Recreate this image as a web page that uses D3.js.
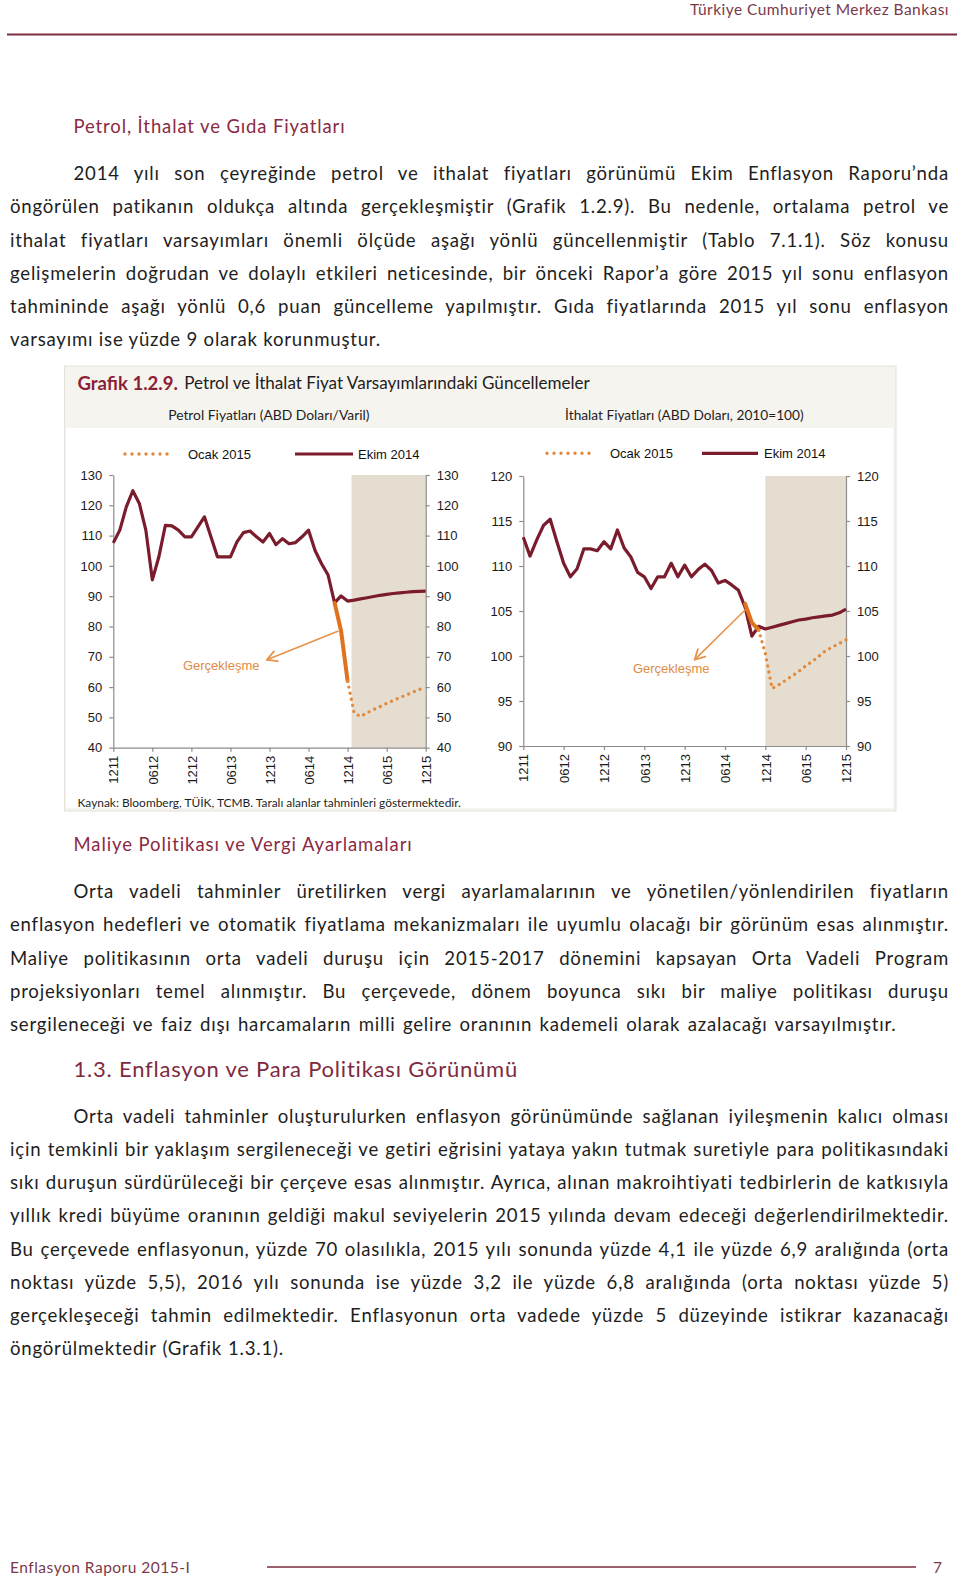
<!DOCTYPE html>
<html><head><meta charset="utf-8">
<script src="https://cdn.jsdelivr.net/npm/d3@7"></script>
<style>
html,body{margin:0;padding:0;background:#fff;}
#page{position:relative;width:960px;height:1579px;overflow:hidden;font-family:Lato,'Open Sans',sans-serif;}
.ln{position:absolute;white-space:nowrap;line-height:22px;height:22px;}
svg{position:absolute;left:0;top:0;}
</style></head><body><div id="page"></div>
<script>
// ---------------- DATA ----------------
const monthTicks = [0, 6, 12, 18, 24, 30, 36, 42, 48];
const tickLabels = ["1211", "0612", "1212", "0613", "1213", "0614", "1214", "0615", "1215"];

// Petrol Fiyatları (ABD Doları/Varil), monthly 12/2011 .. 12/2015
const petrolEkim = [107.6, 111.8, 119.5, 124.8, 120.6, 111.8, 95.4, 103, 113.4, 113.2, 111.8, 109.6,
  109.6, 112.9, 116.2, 109.6, 103, 103, 103, 107.9, 111, 111.5, 109.6, 107.9,
  110.7, 107, 109, 107.3, 107.7, 109.6, 111.8, 105.1, 100.7, 97, 87.8, 90.1,
  88.4, 88.7, 89.1, 89.5, 89.9, 90.3, 90.6, 90.9, 91.1, 91.3, 91.5, 91.6, 91.7];
const petrolGercStart = 34;
const petrolGerc = [87.8, 78.5, 62];
const petrolOcakStart = 36;
const petrolOcak = [62, 51.5, 50.3, 51.5, 52.6, 53.6, 54.6, 55.6, 56.5, 57.4, 58.3, 59.2, 60.0];

// İthalat Fiyatları (ABD Doları, 2010=100)
const ithalatEkim = [113.2, 111.1, 112.9, 114.5, 115.2, 112.7, 110.3, 108.8, 109.7, 111.9, 111.9, 111.7,
  112.7, 111.9, 114.0, 112.0, 111.0, 109.3, 108.8, 107.5, 108.8, 108.8, 110.3, 108.8,
  110.1, 108.8, 109.6, 110.2, 109.5, 108.1, 108.4, 107.9, 107.3, 105.4, 102.2, 103.3,
  103.0, 103.2, 103.4, 103.6, 103.8, 104.0, 104.1, 104.25, 104.35, 104.45, 104.55, 104.8, 105.2];
const ithalatGercStart = 33;
const ithalatGerc = [105.8, 103.7, 102.9];
const ithalatOcakStart = 35;
const ithalatOcak = [102.9, 100.3, 96.4, 96.8, 97.3, 97.8, 98.3, 98.9, 99.4, 100.0, 100.6, 101.0, 101.4, 101.8];

const petrolTicks = [40, 50, 60, 70, 80, 90, 100, 110, 120, 130];
const ithalatTicks = [90, 95, 100, 105, 110, 115, 120];

const legendLabels = ["Ocak 2015", "Ekim 2014"];

// ---------------- TEXT ----------------
const para1 = [
  "2014 yılı son çeyreğinde petrol ve ithalat fiyatları görünümü Ekim Enflasyon Raporu’nda",
  "öngörülen patikanın oldukça altında gerçekleşmiştir (Grafik 1.2.9). Bu nedenle, ortalama petrol ve",
  "ithalat fiyatları varsayımları önemli ölçüde aşağı yönlü güncellenmiştir (Tablo 7.1.1). Söz konusu",
  "gelişmelerin doğrudan ve dolaylı etkileri neticesinde, bir önceki Rapor’a göre 2015 yıl sonu enflasyon",
  "tahmininde aşağı yönlü 0,6 puan güncelleme yapılmıştır. Gıda fiyatlarında 2015 yıl sonu enflasyon",
  "varsayımı ise yüzde 9 olarak korunmuştur."
];
const para2 = [
  "Orta vadeli tahminler üretilirken vergi ayarlamalarının ve yönetilen/yönlendirilen fiyatların",
  "enflasyon hedefleri ve otomatik fiyatlama mekanizmaları ile uyumlu olacağı bir görünüm esas alınmıştır.",
  "Maliye politikasının orta vadeli duruşu için 2015-2017 dönemini kapsayan Orta Vadeli Program",
  "projeksiyonları temel alınmıştır. Bu çerçevede, dönem boyunca sıkı bir maliye politikası duruşu",
  "sergileneceği ve faiz dışı harcamaların milli gelire oranının kademeli olarak azalacağı varsayılmıştır."
];
const para3 = [
  "Orta vadeli tahminler oluşturulurken enflasyon görünümünde sağlanan iyileşmenin kalıcı olması",
  "için temkinli bir yaklaşım sergileneceği ve getiri eğrisini yataya yakın tutmak suretiyle para politikasındaki",
  "sıkı duruşun sürdürüleceği bir çerçeve esas alınmıştır. Ayrıca, alınan makroihtiyati tedbirlerin de katkısıyla",
  "yıllık kredi büyüme oranının geldiği makul seviyelerin 2015 yılında devam edeceği değerlendirilmektedir.",
  "Bu çerçevede enflasyonun, yüzde 70 olasılıkla, 2015 yılı sonunda yüzde 4,1 ile yüzde 6,9 aralığında (orta",
  "noktası yüzde 5,5), 2016 yılı sonunda ise yüzde 3,2 ile yüzde 6,8 aralığında (orta noktası yüzde 5)",
  "gerçekleşeceği tahmin edilmektedir. Enflasyonun orta vadede yüzde 5 düzeyinde istikrar kazanacağı",
  "öngörülmektedir (Grafik 1.3.1)."
];

// ---------------- HTML TEXT ----------------
const page = d3.select('#page');
const svg = page.append('svg').attr('width', 960).attr('height', 1579);
const bodyFont = "Lato, 'Open Sans', sans-serif";

function addText(text, left, cy, target, fs, color, weight, mode, baseLS) {
  const sp = page.append('span').attr('class', 'ln')
    .style('left', left + 'px').style('top', (cy - 11) + 'px')
    .style('font-size', fs + 'px').style('color', color).style('font-weight', weight || 400)
    .style('letter-spacing', (baseLS || 0) + 'px').style('word-spacing', '0px')
    .text(text);
  const w = sp.node().getBoundingClientRect().width;
  if (mode === 'ls') {
    const n = [...text].length;
    sp.style('letter-spacing', ((baseLS || 0) + (target - w) / n) + 'px');
  } else if (mode === 'ws') {
    const n = (text.match(/ /g) || []).length;
    if (n) sp.style('word-spacing', ((target - w) / n) + 'px');
  }
  return sp;
}

// calibrate body letter spacing
const bodyFS = 18.6;
const probe = page.append('span').attr('class', 'ln').style('font-size', bodyFS + 'px').text(para1[5]);
const pw = probe.node().getBoundingClientRect().width;
const bodyLS = (370.8 - pw) / [...para1[5]].length;
probe.remove();
const bodyColor = '#1e1e1e';

function addPara(lines, y0, lastW) {
  const dy = 33.2;
  lines.forEach((t, i) => {
    const first = i === 0, last = i === lines.length - 1;
    const left = first ? 73.5 : 10;
    const target = last ? lastW : (949 - left);
    addText(t, left, y0 + i * dy, target, bodyFS, bodyColor, 400, 'ws', bodyLS);
  });
}
addPara(para1, 173.2, 370.8);
addPara(para2, 891.2, 886.5);
addPara(para3, 1115.8, 274);

const maroon = '#8a2a44';
addText("Türkiye Cumhuriyet Merkez Bankası", 690, 9, 259, 15.5, '#7a3a4c', 400, 'ls');
addText("Petrol, İthalat ve Gıda Fiyatları", 73.5, 126, 272, 18.5, maroon, 400, 'ls');
addText("Maliye Politikası ve Vergi Ayarlamaları", 73.5, 844, 339.5, 18.5, maroon, 400, 'ls');
addText("1.3. Enflasyon ve Para Politikası Görünümü", 73.5, 1068.5, 445, 22, '#7e2a40', 400, 'ls');
addText("Enflasyon Raporu  2015-I", 10, 1567, 181, 15.5, '#7a3a4c', 400, 'ls');
addText("7", 933, 1567, 7, 15.5, '#7a3a4c', 400, 'none');

// header and footer rules
svg.append('line').attr('x1', 7).attr('x2', 957).attr('y1', 34.5).attr('y2', 34.5)
  .attr('stroke', '#7b2d3f').attr('stroke-width', 2);
svg.append('line').attr('x1', 267).attr('x2', 916).attr('y1', 1567).attr('y2', 1567)
  .attr('stroke', '#7b2d3f').attr('stroke-width', 1.6);

// ---------------- CHART BOX ----------------
svg.append('rect').attr('x', 64.5).attr('y', 366).attr('width', 831.5).attr('height', 445)
  .attr('fill', '#f6f4ef').attr('stroke', '#e4e1db');
svg.append('rect').attr('x', 66).attr('y', 428).attr('width', 827).attr('height', 380).attr('fill', '#fff');

function fitSvg(t, w) {
  const l = t.node().getComputedTextLength();
  t.attr('font-size', parseFloat(t.attr('font-size')) * w / l);
  return t;
}
fitSvg(svg.append('text').attr('x', 77.5).attr('y', 390).attr('font-family', bodyFont)
  .attr('font-size', 17).attr('font-weight', 700).attr('fill', '#8b1f37').text('Grafik 1.2.9.'), 100.5);
fitSvg(svg.append('text').attr('x', 184.3).attr('y', 389).attr('font-family', bodyFont)
  .attr('font-size', 15).attr('fill', '#1e1e1e').text('Petrol ve İthalat Fiyat Varsayımlarındaki Güncellemeler'), 406);
fitSvg(svg.append('text').attr('x', 168.2).attr('y', 419.5).attr('font-family', bodyFont)
  .attr('font-size', 13).attr('fill', '#1e1e1e').text('Petrol Fiyatları (ABD Doları/Varil)'), 201.5);
fitSvg(svg.append('text').attr('x', 565.1).attr('y', 420).attr('font-family', bodyFont)
  .attr('font-size', 13).attr('fill', '#1e1e1e').text('İthalat Fiyatları (ABD Doları, 2010=100)'), 238.8);
fitSvg(svg.append('text').attr('x', 77.5).attr('y', 806.5).attr('font-family', bodyFont)
  .attr('font-size', 11).attr('fill', '#1e1e1e').text('Kaynak: Bloomberg, TÜİK, TCMB. Taralı alanlar tahminleri göstermektedir.'), 383.9);

// ---------------- CHARTS ----------------
const C = {
  ekim: '#7a1c2c', gerc: '#e0711d', ocak: '#e2893a', shade: '#e6ddd1',
  axis: '#8c8c8c', ann: '#e8934a', annText: '#e08b42'
};
const arial = "'Liberation Sans', Arial, sans-serif";

function series(start, vals) { return vals.map((v, i) => ({ m: start + i, v })); }

function drawChart(cfg) {
  const g = svg.append('g');
  const x = d3.scaleLinear().domain([0, 48]).range([cfg.x0, cfg.x1]);
  const y = d3.scaleLinear().domain(cfg.dom).range([cfg.yb, cfg.yt]);

  // shaded forecast area
  g.append('rect').attr('x', x(cfg.shade)).attr('y', y(cfg.dom[1]))
    .attr('width', x(48) - x(cfg.shade)).attr('height', y(cfg.dom[0]) - y(cfg.dom[1]))
    .attr('fill', C.shade);

  // axes
  const styleAxis = sel => {
    sel.selectAll('path.domain').attr('stroke', C.axis).attr('stroke-width', 1.2);
    sel.selectAll('.tick line').attr('stroke', C.axis).attr('stroke-width', 1.2);
    sel.selectAll('text').attr('font-family', arial).attr('font-size', 13).attr('fill', '#1a1a1a');
  };
  g.append('g').attr('transform', `translate(${cfg.x0},0)`)
    .call(d3.axisLeft(y).tickValues(cfg.ticks).tickSize(4).tickSizeOuter(0).tickPadding(7)).call(styleAxis);
  g.append('g').attr('transform', `translate(${cfg.x1},0)`)
    .call(d3.axisRight(y).tickValues(cfg.ticks).tickSize(4).tickSizeOuter(0).tickPadding(7)).call(styleAxis);
  const xa = g.append('g').attr('transform', `translate(0,${cfg.yb})`)
    .call(d3.axisBottom(x).tickValues(monthTicks).tickFormat((d, i) => tickLabels[i]).tickSize(4).tickSizeOuter(0))
    .call(styleAxis);
  xa.selectAll('text').attr('transform', 'rotate(-90)').attr('text-anchor', 'end')
    .attr('x', -8).attr('y', 0).attr('dy', '0.36em');

  const line = d3.line().x(d => x(d.m)).y(d => y(d.v));

  g.append('path').datum(series(0, cfg.ekim)).attr('d', line)
    .attr('fill', 'none').attr('stroke', C.ekim).attr('stroke-width', 3.2)
    .attr('stroke-linejoin', 'round');
  g.append('path').datum(series(cfg.gercStart, cfg.gerc)).attr('d', line)
    .attr('fill', 'none').attr('stroke', C.gerc).attr('stroke-width', 4)
    .attr('stroke-linejoin', 'round').attr('stroke-linecap', 'round');
  g.append('path').datum(series(cfg.ocakStart, cfg.ocak)).attr('d', line)
    .attr('fill', 'none').attr('stroke', C.ocak).attr('stroke-width', 3.4)
    .attr('stroke-dasharray', '0 6.2').attr('stroke-linecap', 'round');

  // annotation arrow
  const [ax1, ay1] = [x(cfg.ann.from[0]), y(cfg.ann.from[1])];
  const [ax2, ay2] = [x(cfg.ann.to[0]), y(cfg.ann.to[1])];
  g.append('line').attr('x1', ax1).attr('y1', ay1).attr('x2', ax2).attr('y2', ay2)
    .attr('stroke', C.ann).attr('stroke-width', 1.6);
  const ang = Math.atan2(ay1 - ay2, ax1 - ax2);
  [-0.5, 0.5].forEach(da => {
    g.append('line').attr('x1', ax2).attr('y1', ay2)
      .attr('x2', ax2 + 11 * Math.cos(ang + da)).attr('y2', ay2 + 11 * Math.sin(ang + da))
      .attr('stroke', C.ann).attr('stroke-width', 1.8).attr('stroke-linecap', 'round');
  });
  g.append('text').attr('x', x(cfg.ann.text[0])).attr('y', y(cfg.ann.text[1]))
    .attr('font-family', arial).attr('font-size', 13).attr('fill', C.annText).text('Gerçekleşme');

  // legend
  const L = cfg.legend;
  g.append('line').attr('x1', L.dot[0]).attr('x2', L.dot[1]).attr('y1', L.y).attr('y2', L.y)
    .attr('stroke', C.ocak).attr('stroke-width', 3.4).attr('stroke-dasharray', '0 7').attr('stroke-linecap', 'round');
  g.append('text').attr('x', L.dotText).attr('y', L.y + 4.7).attr('font-family', arial)
    .attr('font-size', 13).attr('fill', '#111').text(legendLabels[0]);
  g.append('line').attr('x1', L.solid[0]).attr('x2', L.solid[1]).attr('y1', L.y).attr('y2', L.y)
    .attr('stroke', C.ekim).attr('stroke-width', 3.2);
  g.append('text').attr('x', L.solidText).attr('y', L.y + 4.7).attr('font-family', arial)
    .attr('font-size', 13).attr('fill', '#111').text(legendLabels[1]);
}

drawChart({
  x0: 113.3, x1: 425.7, yb: 747.7, yt: 475, dom: [40, 130], ticks: petrolTicks,
  ekim: petrolEkim, gercStart: petrolGercStart, gerc: petrolGerc,
  ocakStart: petrolOcakStart, ocak: petrolOcak, shade: 36.6,
  ann: { from: [34.6, 78.5], to: [23.6, 69], text: [10.7, 65.5] },
  legend: { y: 454, dot: [125, 174], dotText: 188, solid: [295, 353], solidText: 358 }
});
drawChart({
  x0: 523.3, x1: 846, yb: 746, yt: 476, dom: [90, 120], ticks: ithalatTicks,
  ekim: ithalatEkim, gercStart: ithalatGercStart, gerc: ithalatGerc,
  ocakStart: ithalatOcakStart, ocak: ithalatOcak, shade: 36,
  ann: { from: [33.1, 105.2], to: [25.5, 99.6], text: [16.3, 98.1] },
  legend: { y: 453.3, dot: [547, 596], dotText: 610, solid: [702, 758], solidText: 764 }
});
</script></body></html>
